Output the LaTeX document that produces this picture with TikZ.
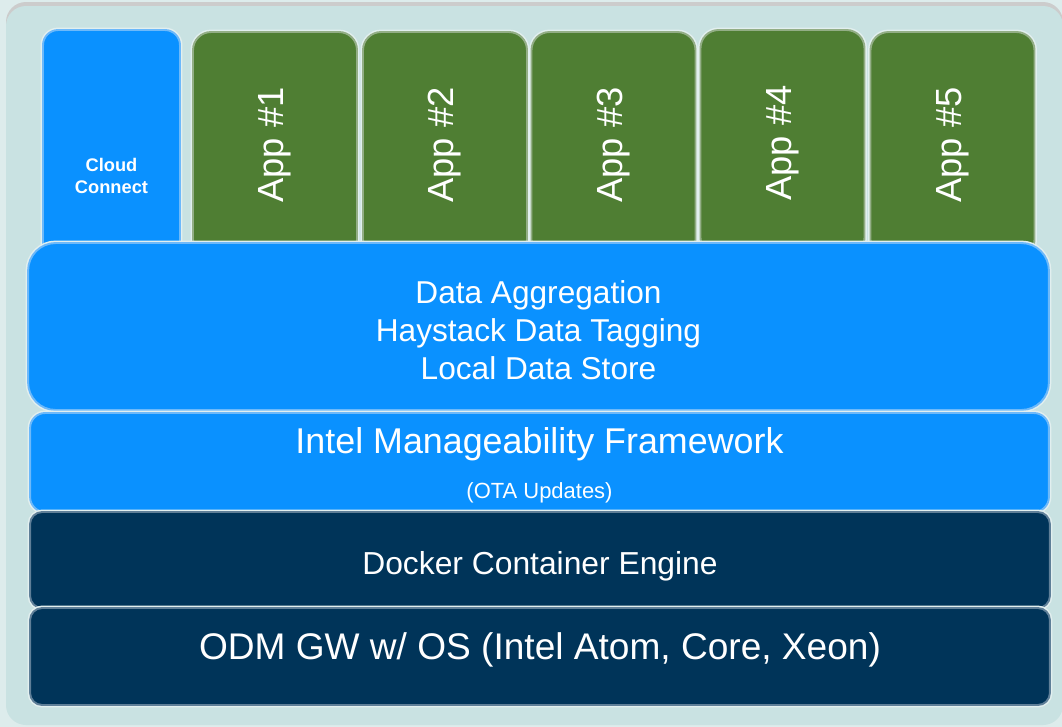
\documentclass[tikz,border=0pt]{standalone}
\usepackage{fontspec}
\setmainfont{Liberation Sans}
\usetikzlibrary{positioning}
\definecolor{outerbg}{HTML}{DDECEC}
\definecolor{panelbg}{HTML}{C9E2E2}
\definecolor{halo}{HTML}{E2EFEF}
\definecolor{cloudblue}{HTML}{0A91FF}
\definecolor{blueedge}{HTML}{6DB9FA}
\definecolor{appgreen}{HTML}{4F7E33}
\definecolor{greenedge}{HTML}{93AE86}
\definecolor{navy}{HTML}{003459}
\definecolor{navyedge}{HTML}{5F7F98}
\tikzset{
    box/.style={rectangle, inner sep=0pt, outer sep=0pt, text=white,
        align=center, line width=1.1pt,
        preaction={draw=halo, line width=2.8pt}},
    bluebox/.style={box, fill=cloudblue, draw=blueedge},
    appbox/.style={box, fill=appgreen, draw=greenedge, rotate=90,
        rounded corners=0.36cm, minimum width=4.52cm, minimum height=3.28cm,
        font=\fontsize{20.7}{24}\selectfont},
    navybox/.style={box, fill=navy, draw=navyedge, rounded corners=0.24cm,
        minimum width=20.4cm},
    boxtext/.style={text=white, align=center, inner sep=0pt},
}

\begin{document}
\begin{tikzpicture}[x=0.02cm, y=-0.02cm]
    \useasboundingbox (0,0) rectangle (1062,727);
    % backdrop
    \fill[outerbg] (0,0) rectangle (1062,727);
    \fill[gray!40, rounded corners=0.4cm] (6,2) rectangle (1063,722);
    \fill[panelbg, rounded corners=0.4cm] (6,6) rectangle (1063,725);

    % top row
    \node[bluebox, rounded corners=0.3cm, minimum width=2.74cm,
        minimum height=5.84cm, font=\bfseries\fontsize{10.4}{13}\selectfont]
        (cloud) at (111.5,176) {Cloud\\Connect};
    \foreach \i/\x/\y in {1/275/145, 2/445/145, 3/613.5/145, 4/782.5/143,
        5/952.5/145}
        \node[appbox] (app\i) at (\x,\y) {App \#\i};

    % layers
    \node[bluebox, rounded corners=0.55cm, minimum width=20.42cm,
        minimum height=3.34cm] (agg) at (538.5,326.5) {};
    \node[boxtext, font=\fontsize{18}{21.6}\selectfont]
        (aggtext) at ([yshift=-0.08cm]agg.center)
        {Data Aggregation\\Haystack Data Tagging\\Local Data Store};
    \node[bluebox, rounded corners=0.3cm, minimum width=20.38cm,
        minimum height=1.98cm] (mgmt) at (539.5,462.5) {};
    \node[boxtext, font=\fontsize{20.4}{25.6}\selectfont]
        (mgmttext) at ([yshift=-0.05cm]mgmt.center)
        {Intel Manageability Framework\\{\fontsize{12.5}{15}\selectfont (OTA Updates)}};
    \node[navybox, minimum height=1.92cm] (docker) at (540,560) {};
    \node[boxtext, font=\fontsize{18.1}{21.7}\selectfont]
        (dockertext) at ([yshift=-0.12cm]docker.center)
        {Docker Container Engine};
    \node[navybox, minimum height=1.94cm] (odm) at (540,656.5) {};
    \node[boxtext, font=\fontsize{21.1}{25}\selectfont]
        (odmtext) at ([yshift=0.14cm]odm.center)
        {ODM GW w/ OS (Intel Atom, Core, Xeon)};
\end{tikzpicture}
\end{document}
